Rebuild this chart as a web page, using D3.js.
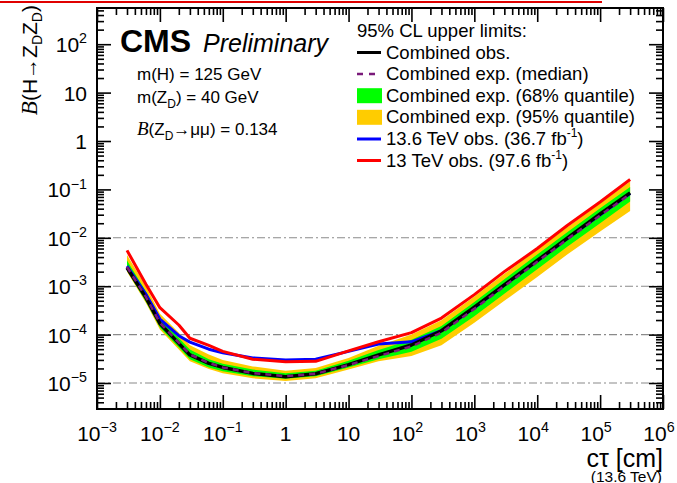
<!DOCTYPE html>
<html><head><meta charset="utf-8">
<script src="https://cdn.jsdelivr.net/npm/d3@7"></script>
<style>
body{margin:0;background:#fff}
svg{display:block}
text{font-family:"Liberation Sans",Arial,Helvetica,sans-serif;fill:#000}
</style>
</head><body>
<svg id="c" width="677" height="483"></svg>
<script>
// ---------------- data ----------------
const ctValues     = [0.003,0.006,0.01,0.02,0.03,0.06,0.1,0.3,1,3,10,30,100,300,1000,3000,1e4,3e4,1e5,3e5];
const combinedObs  = [2.4e-3,5.8e-4,1.7e-4,6.6e-5,3.8e-5,2.55e-5,2.1e-5,1.58e-5,1.35e-5,1.55e-5,2.4e-5,3.8e-5,6.1e-5,1.2e-4,3.7e-4,1.07e-3,3.4e-3,9.8e-3,3.1e-2,8.5e-2];
const combinedExp  = [2.5e-3,6.0e-4,1.75e-4,6.8e-5,3.9e-5,2.6e-5,2.1e-5,1.6e-5,1.38e-5,1.55e-5,2.35e-5,3.6e-5,5.7e-5,1.1e-4,3.4e-4,1.0e-3,3.2e-3,9.3e-3,2.9e-2,8.0e-2];
const exp68Lo      = [2.1e-3,4.8e-4,1.4e-4,5.4e-5,3.1e-5,2.1e-5,1.75e-5,1.38e-5,1.22e-5,1.38e-5,2.1e-5,3.1e-5,4.4e-5,8.2e-5,2.4e-4,7.0e-4,2.25e-3,6.5e-3,2.0e-2,5.6e-2];
const exp68Hi      = [3.4e-3,7.8e-4,2.2e-4,8.5e-5,4.9e-5,3.1e-5,2.5e-5,1.9e-5,1.6e-5,1.8e-5,2.9e-5,4.8e-5,7.8e-5,1.5e-4,4.7e-4,1.4e-3,4.5e-3,1.3e-2,4.1e-2,0.112];
const exp95Lo      = [2.0e-3,4.5e-4,1.28e-4,4.9e-5,2.8e-5,1.95e-5,1.6e-5,1.25e-5,1.1e-5,1.25e-5,1.9e-5,2.8e-5,3.6e-5,6.0e-5,1.75e-4,5.0e-4,1.55e-3,4.5e-3,1.35e-2,3.6e-2];
const exp95Hi      = [4.4e-3,1.0e-3,2.7e-4,1.09e-4,6.0e-5,3.9e-5,3.0e-5,2.2e-5,1.8e-5,2.05e-5,3.3e-5,5.9e-5,1.0e-4,1.98e-4,6.1e-4,1.8e-3,5.7e-3,1.65e-2,5.2e-2,0.145];
const obs136TeV    = [2.6e-3,6.8e-4,2.1e-4,9.5e-5,7.0e-5,5.0e-5,4.2e-5,3.3e-5,3.0e-5,3.1e-5,4.5e-5,6.4e-5,7.1e-5,1.2e-4,3.6e-4,1.06e-3,3.3e-3,9.6e-3,3.0e-2,8.2e-2];
const obs13TeV     = [5.5e-3,1.1e-3,3.6e-4,1.58e-4,8.4e-5,6.0e-5,4.5e-5,3.1e-5,2.75e-5,2.8e-5,4.6e-5,7.1e-5,1.1e-4,2.2e-4,6.7e-4,2.0e-3,6.0e-3,1.8e-2,5.5e-2,0.16];

const xTickValues = [1e-3,1e-2,1e-1,1,10,1e2,1e3,1e4,1e5,1e6];
const xTickLabels = [["10","−3"],["10","−2"],["10","−1"],["1",""],["10",""],["10","2"],["10","3"],["10","4"],["10","5"],["10","6"]];
const yTickValues = [1e-5,1e-4,1e-3,1e-2,1e-1,1,10,1e2];
const yTickLabels = [["10","−5"],["10","−4"],["10","−3"],["10","−2"],["10","−1"],["1",""],["10",""],["10","2"]];
const gridValues  = [1e-5,1e-4,1e-3,1e-2];
const xDomain = [1e-3, 1e6];
const yDomain = [2.904e-6, 559.8];

const legendHeader = "95% CL upper limits:";
const legendLabels = [
  ["Combined obs."],
  ["Combined exp. (median)"],
  ["Combined exp. (68% quantile)"],
  ["Combined exp. (95% quantile)"],
  ["13.6 TeV obs. (36.7 fb","-1",")"],
  ["13 TeV obs. (97.6 fb","-1",")"]
];

// ---------------- layout ----------------
const L = 97, R = 663, T = 8, B = 409;
const svg = d3.select("#c");
const x = d3.scaleLog().domain(xDomain).range([L, R]);
const y = d3.scaleLog().domain(yDomain).range([B, T]);

const colors = {obs:"#000", exp:"#7a1a7a", g68:"#00ff00", y95:"#ffcc00", blue:"#0000ff", red:"#ff0000"};

// top decoration line
svg.append("rect").attr("x",0).attr("y",1).attr("width",602).attr("height",2).attr("fill","#e00000");

svg.append("defs").append("clipPath").attr("id","clip")
  .append("rect").attr("x",L).attr("y",T).attr("width",R-L).attr("height",B-T);

// grid lines (dash-dot)
svg.append("g").selectAll("line").data(gridValues).join("line")
  .attr("x1",L).attr("x2",R).attr("y1",d=>y(d)).attr("y2",d=>y(d))
  .attr("stroke","#8a8a8a").attr("stroke-width",1.1).attr("stroke-dasharray","8,3,2,3");

const plot = svg.append("g").attr("clip-path","url(#clip)");
const idx = d3.range(ctValues.length);
const band = (lo,hi)=>d3.area().x(i=>x(ctValues[i])).y0(i=>y(lo[i])).y1(i=>y(hi[i]));
const line = arr=>d3.line().x(i=>x(ctValues[i])).y(i=>y(arr[i]));

plot.append("path").attr("d",band(exp95Lo,exp95Hi)(idx)).attr("fill",colors.y95);
plot.append("path").attr("d",band(exp68Lo,exp68Hi)(idx)).attr("fill",colors.g68);
plot.append("path").attr("d",line(obs136TeV)(idx)).attr("fill","none").attr("stroke",colors.blue).attr("stroke-width",3).attr("stroke-linejoin","round");
plot.append("path").attr("d",line(obs13TeV)(idx)).attr("fill","none").attr("stroke",colors.red).attr("stroke-width",3).attr("stroke-linejoin","round");
plot.append("path").attr("d",line(combinedObs)(idx)).attr("fill","none").attr("stroke",colors.obs).attr("stroke-width",3.5).attr("stroke-linejoin","round");
plot.append("path").attr("d",line(combinedExp)(idx)).attr("fill","none").attr("stroke",colors.exp).attr("stroke-width",2.5).attr("stroke-dasharray","6,5");

// ---------------- axes ----------------
function minorTicks(domain){
  const out=[]; const a=Math.floor(Math.log10(domain[0])), b=Math.ceil(Math.log10(domain[1]));
  for(let e=a;e<b;e++) for(let k=2;k<=9;k++){const v=k*Math.pow(10,e); if(v>=domain[0]&&v<=domain[1]) out.push(v);}
  return out;
}
const xMinor = minorTicks(xDomain), yMinor = minorTicks(yDomain);

function styleAxis(g){ g.select(".domain").remove(); g.selectAll("line").attr("stroke","#000").attr("stroke-width",1.6); g.selectAll("text").remove(); }

svg.append("g").attr("transform",`translate(0,${B})`).call(d3.axisBottom(x).tickValues(xTickValues).tickSize(-14).tickSizeOuter(0)).call(styleAxis);
svg.append("g").attr("transform",`translate(0,${B})`).call(d3.axisBottom(x).tickValues(xMinor).tickSize(-7).tickSizeOuter(0)).call(styleAxis);
svg.append("g").attr("transform",`translate(0,${T})`).call(d3.axisTop(x).tickValues(xTickValues).tickSize(-14).tickSizeOuter(0)).call(styleAxis);
svg.append("g").attr("transform",`translate(0,${T})`).call(d3.axisTop(x).tickValues(xMinor).tickSize(-7).tickSizeOuter(0)).call(styleAxis);
svg.append("g").attr("transform",`translate(${L},0)`).call(d3.axisLeft(y).tickValues(yTickValues).tickSize(-14).tickSizeOuter(0)).call(styleAxis);
svg.append("g").attr("transform",`translate(${L},0)`).call(d3.axisLeft(y).tickValues(yMinor).tickSize(-7).tickSizeOuter(0)).call(styleAxis);
svg.append("g").attr("transform",`translate(${R},0)`).call(d3.axisRight(y).tickValues(yTickValues).tickSize(-14).tickSizeOuter(0)).call(styleAxis);
svg.append("g").attr("transform",`translate(${R},0)`).call(d3.axisRight(y).tickValues(yMinor).tickSize(-7).tickSizeOuter(0)).call(styleAxis);

svg.append("rect").attr("x",L).attr("y",T).attr("width",R-L).attr("height",B-T)
  .attr("fill","none").attr("stroke","#000").attr("stroke-width",2);

// tick labels
function supLabel(sel, base, exp, fs){
  sel.append("tspan").text(base);
  if(exp) sel.append("tspan").attr("font-size",fs*0.68).attr("dy",-fs*0.42).text(exp);
}
xTickValues.forEach((v,i)=>{
  const [b,e]=xTickLabels[i];
  const t=svg.append("text").attr("x",x(v)+(e&&e[0]!=="−"?-4:0)).attr("y",441).attr("text-anchor","middle").attr("font-size",21);
  supLabel(t,b,e,21);
});
yTickValues.forEach((v,i)=>{
  const [b,e]=yTickLabels[i];
  const t=svg.append("text").attr("x",87).attr("y",y(v)+8).attr("text-anchor","end").attr("font-size",21);
  supLabel(t,b,e,21);
});

// axis titles
svg.append("text").attr("x",R).attr("y",467).attr("text-anchor","end").attr("font-size",25).text("cτ [cm]");
svg.append("text").attr("x",R-1).attr("y",481.5).attr("text-anchor","end").attr("font-size",15.5).text("(13.6 TeV)");

const yt = svg.append("text").attr("transform","translate(37,5) rotate(-90)").attr("text-anchor","end").attr("font-size",21);
yt.append("tspan").attr("font-family","Liberation Serif, Times New Roman, serif").attr("font-style","italic").attr("font-size",23).text("B");
yt.append("tspan").text("(H→Z");
yt.append("tspan").attr("font-size",14).attr("dy",5).text("D");
yt.append("tspan").attr("dy",-5).text("Z");
yt.append("tspan").attr("font-size",14).attr("dy",5).text("D");
yt.append("tspan").attr("dy",-5).text(")");

// CMS labels
svg.append("text").attr("x",120).attr("y",52).attr("font-size",32).attr("font-weight","bold").text("CMS");
svg.append("text").attr("x",203).attr("y",52).attr("font-size",25).attr("font-style","italic").text("Preliminary");
svg.append("text").attr("x",137).attr("y",80).attr("font-size",17).text("m(H) = 125 GeV");
const mz = svg.append("text").attr("x",137).attr("y",103).attr("font-size",17);
mz.append("tspan").text("m(Z");
mz.append("tspan").attr("font-size",12).attr("dy",5).text("D");
mz.append("tspan").attr("dy",-5).text(") = 40 GeV");
const bz = svg.append("text").attr("x",137).attr("y",135).attr("font-size",17);
bz.append("tspan").attr("font-family","Liberation Serif, Times New Roman, serif").attr("font-style","italic").attr("font-size",19).text("B");
bz.append("tspan").text("(Z");
bz.append("tspan").attr("font-size",12).attr("dy",5).text("D");
bz.append("tspan").attr("dy",-5).text("→μμ) = 0.134");

// legend
const lg = svg.append("g");
const fsL = 18.5;
lg.append("text").attr("x",357).attr("y",37).attr("font-size",fsL).text(legendHeader);
const rowY = [58.5,80,101.7,123.3,145,166.5];
const symX0 = 357, symX1 = 381, txtX = 386;
legendLabels.forEach((lab,i)=>{
  const t = lg.append("text").attr("x",txtX).attr("y",rowY[i]).attr("font-size",fsL);
  t.append("tspan").text(lab[0]);
  if(lab.length>1){
    t.append("tspan").attr("font-size",12).attr("dy",-8).text(lab[1]);
    t.append("tspan").attr("dy",8).text(lab[2]);
  }
});
const cy = i=>rowY[i]-6;
lg.append("line").attr("x1",symX0).attr("x2",symX1).attr("y1",cy(0)).attr("y2",cy(0)).attr("stroke",colors.obs).attr("stroke-width",3);
lg.append("line").attr("x1",symX0).attr("x2",symX1).attr("y1",cy(1)).attr("y2",cy(1)).attr("stroke",colors.exp).attr("stroke-width",2.5).attr("stroke-dasharray","6,6");
lg.append("rect").attr("x",symX0).attr("y",cy(2)-7.5).attr("width",symX1-symX0+1).attr("height",15).attr("fill",colors.g68);
lg.append("rect").attr("x",symX0).attr("y",cy(3)-7.5).attr("width",symX1-symX0+1).attr("height",15).attr("fill",colors.y95);
lg.append("line").attr("x1",symX0).attr("x2",symX1).attr("y1",cy(4)).attr("y2",cy(4)).attr("stroke",colors.blue).attr("stroke-width",3);
lg.append("line").attr("x1",symX0).attr("x2",symX1).attr("y1",cy(5)).attr("y2",cy(5)).attr("stroke",colors.red).attr("stroke-width",3);
</script>
</body></html>
